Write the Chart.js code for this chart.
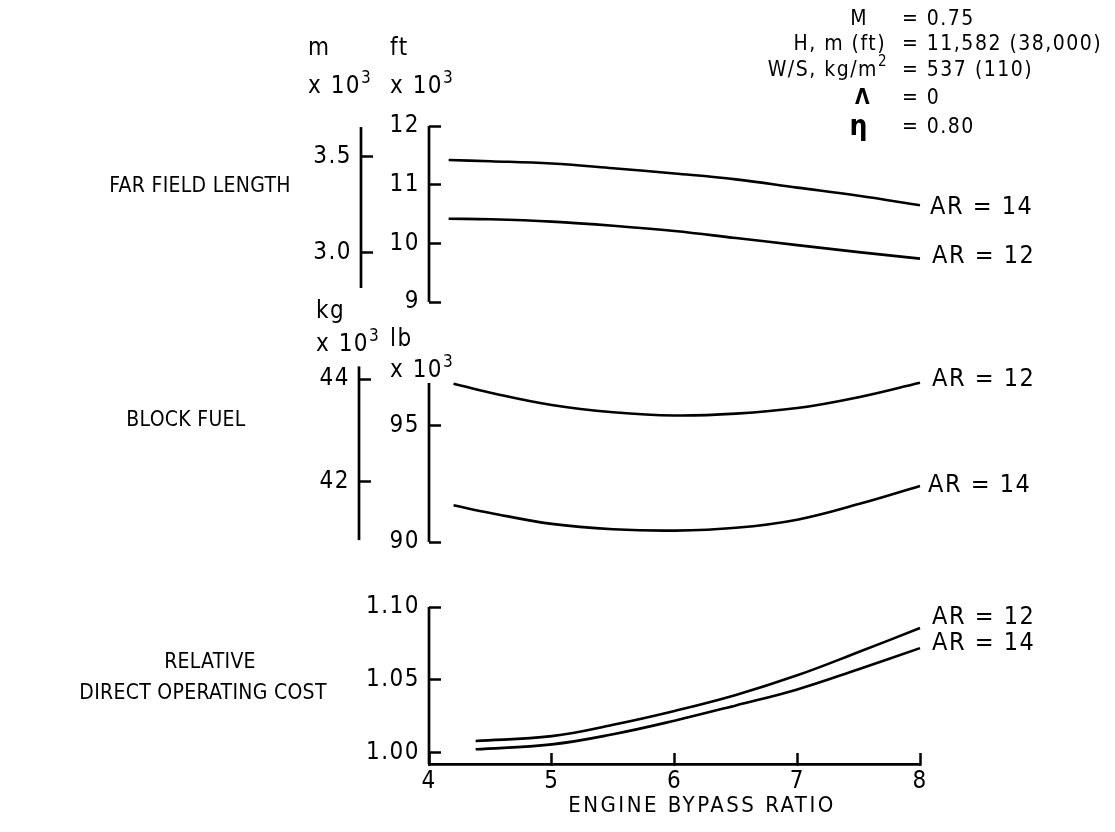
<!DOCTYPE html>
<html><head><meta charset="utf-8">
<script src="https://cdn.jsdelivr.net/npm/chart.js@4.4.1/dist/chart.umd.min.js"></script>
<style>
html,body{margin:0;padding:0;background:#fff;}
#wrap{position:relative;width:1115px;height:832px;overflow:hidden;background:#fff;}
#wrap canvas{position:absolute;left:0;top:0;}
</style></head><body>
<div id="wrap">
<canvas id="cFFL" width="1115" height="832"></canvas>
<canvas id="cFuel" width="1115" height="832"></canvas>
<canvas id="cDoc" width="1115" height="832"></canvas>
</div>
<script>
// ---------------- data ----------------
const bypassTop = [4.16, 4.5, 5, 5.5, 6, 6.5, 7, 7.5, 8];
const fieldLengthAR14 = [11.42, 11.40, 11.36, 11.28, 11.19, 11.09, 10.95, 10.81, 10.65]; // ft x 10^3
const fieldLengthAR12 = [10.42, 10.41, 10.37, 10.30, 10.21, 10.09, 9.97, 9.85, 9.74];

const bypassMid = [4.2, 4.5, 5, 5.5, 6, 6.5, 7, 7.5, 8];
const blockFuelAR12 = [96.81, 96.42, 95.89, 95.58, 95.44, 95.52, 95.76, 96.23, 96.85]; // lb x 10^3
const blockFuelAR14 = [91.58, 91.25, 90.78, 90.55, 90.49, 90.61, 90.96, 91.63, 92.41];

const bypassDoc = [4.38, 5, 5.5, 6, 6.5, 7, 7.5, 8];
const docAR12 = [1.0078, 1.0112, 1.0190, 1.0285, 1.0395, 1.0530, 1.0690, 1.0855];
const docAR14 = [1.0021, 1.0055, 1.0125, 1.0218, 1.0323, 1.0433, 1.0572, 1.0717];

const bypassTicks = [4, 5, 6, 7, 8];
const ftTicks = [9, 10, 11, 12];
const mTicks = [3.0, 3.5];
const lbTicks = [90, 95];
const kgTicks = [42, 44];
const docTicks = [1.00, 1.05, 1.10];

const FT_PER_M = 3.28084;
const LB_PER_KG = 2.20462;

// ---------------- font ----------------
function hasFont(name){
  const c = document.createElement('canvas').getContext('2d');
  const s = 'FAR FIELD LENGTH 0123456789 AR';
  c.font = '40px monospace'; const a = c.measureText(s).width;
  c.font = '40px "' + name + '", monospace'; const b = c.measureText(s).width;
  return Math.abs(a - b) > 0.5;
}
const NARROW = hasFont('Liberation Sans Narrow');
const FAM = NARROW ? '"Liberation Sans Narrow", sans-serif' : '"DejaVu Sans Condensed", "DejaVu Sans", sans-serif';
const SZ = NARROW
  ? {tick: 27, ar: 27, unit: 27, param: 24, title: 24, xtitle: 26}
  : {tick: 24, ar: 25, unit: 24, param: 21, title: 21, xtitle: 22};

// ---------------- helpers ----------------
const INK = '#000';
function fixedTicks(list){ return s => { s.ticks = list.map(v => ({value: v})); }; }

function yAxis(o){
  return {
    type: 'linear', position: 'left', weight: o.weight, min: o.min, max: o.max,
    afterBuildTicks: fixedTicks(o.ticks),
    afterFit: s => { s.width = o.width; },
    border: {display: false},
    grid: {display: true, drawOnChartArea: false, drawTicks: true, tickLength: -12,
           tickWidth: 2.5, tickColor: INK, color: INK},
    ticks: {color: INK, padding: 21, font: {family: FAM, size: SZ.tick},
            callback: o.fmt}
  };
}
function hiddenX(){ return {type: 'linear', min: 4, max: 8, display: false}; }

function series(xs, ys){ return xs.map((x, i) => ({x: x, y: ys[i]})); }
function lineDs(xs, ys, yId){
  return {data: series(xs, ys), yAxisID: yId, borderColor: INK, borderWidth: 2.6, pointRadius: 0,
          tension: 0.4, fill: false, clip: false};
}

// axis lines drawn over a chosen value span, through the scale
const axisLinePlugin = {
  id: 'axisLines',
  afterDraw(chart, args, opts){
    const ctx = chart.ctx;
    (opts.lines || []).forEach(l => {
      const s = chart.scales[l.scale];
      const x = s.right;
      ctx.save();
      ctx.strokeStyle = INK; ctx.lineWidth = 2.7; ctx.lineCap = 'butt';
      ctx.beginPath();
      ctx.moveTo(x, s.getPixelForValue(l.from));
      ctx.lineTo(x, s.getPixelForValue(l.to));
      ctx.stroke();
      ctx.restore();
    });
  }
};

// "AR = .." labels at the curve ends
const endLabelPlugin = {
  id: 'endLabels',
  afterDraw(chart, args, opts){
    const ctx = chart.ctx;
    (opts.labels || []).forEach(l => {
      const meta = chart.getDatasetMeta(l.dataset);
      const p = meta.data[meta.data.length - 1];
      ctx.save();
      ctx.fillStyle = INK;
      ctx.font = SZ.ar + 'px ' + FAM;
      ctx.letterSpacing = '1.5px';
      ctx.textAlign = 'left'; ctx.textBaseline = 'middle';
      ctx.fillText(l.text, p.x + l.dx, p.y + l.dy);
      ctx.restore();
    });
  }
};

const letterPlugin = {
  id: 'letterSpace',
  beforeDraw(chart){ chart.ctx.letterSpacing = '1.5px'; }
};

function supText(ctx, base, sup, x, y, size, align){
  ctx.font = size + 'px ' + FAM;
  const wb = ctx.measureText(base).width;
  ctx.font = Math.round(size * 0.72) + 'px ' + FAM;
  const ws = ctx.measureText(sup).width;
  let x0 = x;
  if (align === 'right') x0 = x - wb - ws;
  ctx.textAlign = 'left';
  ctx.font = size + 'px ' + FAM;
  ctx.fillText(base, x0, y);
  ctx.font = Math.round(size * 0.72) + 'px ' + FAM;
  ctx.fillText(sup, x0 + wb, y - size * 0.42);
}

// free text of the figure (titles, units, flight conditions)
const textPlugin = {
  id: 'figureText',
  afterDraw(chart){
    const ctx = chart.ctx;
    ctx.save();
    ctx.fillStyle = INK;
    ctx.letterSpacing = '1.5px';
    ctx.textBaseline = 'alphabetic';
    const U = SZ.unit;
    // axis unit labels
    ctx.textAlign = 'left';
    ctx.font = U + 'px ' + FAM;
    ctx.fillText('m', 308, 55);
    supText(ctx, 'x 10', '3', 308, 93, U, 'left');
    ctx.font = U + 'px ' + FAM;
    ctx.fillText('ft', 390, 55);
    supText(ctx, 'x 10', '3', 390, 93, U, 'left');
    ctx.font = U + 'px ' + FAM;
    ctx.fillText('kg', 316, 318);
    supText(ctx, 'x 10', '3', 316, 351, U, 'left');
    ctx.font = U + 'px ' + FAM;
    ctx.fillText('lb', 390, 346);
    supText(ctx, 'x 10', '3', 390, 377, U, 'left');

    // panel titles
    ctx.font = SZ.title + 'px ' + FAM;
    ctx.textAlign = 'center'; ctx.textBaseline = 'middle';
    ctx.letterSpacing = '0.3px';
    ctx.fillText('FAR FIELD LENGTH', 200, 187);
    ctx.fillText('BLOCK FUEL', 186, 421);
    ctx.fillText('RELATIVE', 210, 663);
    ctx.fillText('DIRECT OPERATING COST', 203, 694);
    ctx.font = SZ.xtitle + 'px ' + FAM;
    ctx.letterSpacing = '2.5px';
    ctx.fillText('ENGINE BYPASS RATIO', 702, 806);

    // flight conditions
    const P = SZ.param;
    ctx.letterSpacing = '1.5px';
    ctx.font = P + 'px ' + FAM;
    ctx.textBaseline = 'middle';
    ctx.textAlign = 'right';
    ctx.fillText('M', 868, 20);
    ctx.fillText('H, m (ft)', 886, 45);
    supText(ctx, 'W/S, kg/m', '2', 888, 71, P, 'right');
    ctx.font = 'bold ' + P + 'px ' + FAM;
    ctx.textAlign = 'right';
    ctx.fillText('\u039B', 871, 99);
    ctx.font = 'bold ' + Math.round(P * 1.35) + 'px ' + FAM;
    ctx.fillText('\u03B7', 869, 128);
    ctx.font = P + 'px ' + FAM;
    ctx.textAlign = 'left';
    ctx.fillText('= 0.75', 902, 20);
    ctx.fillText('= 11,582 (38,000)', 902, 45);
    ctx.fillText('= 537 (110)', 902, 71);
    ctx.fillText('= 0', 902, 99);
    ctx.fillText('= 0.80', 902, 128);
    ctx.restore();
  }
};

const baseOpts = {
  responsive: false, animation: false, devicePixelRatio: 1,
  events: []
};

// ---------------- chart 1: far field length ----------------
new Chart(document.getElementById('cFFL'), {
  type: 'line',
  plugins: [letterPlugin, axisLinePlugin, endLabelPlugin, textPlugin],
  data: {datasets: [lineDs(bypassTop, fieldLengthAR14, 'ft'), lineDs(bypassTop, fieldLengthAR12, 'ft')]},
  options: Object.assign({}, baseOpts, {
    layout: {padding: {left: 301, right: 195, top: 126, bottom: 530}},
    scales: {
      x: hiddenX(),
      ft: yAxis({weight: 0, width: 68, min: 9, max: 12, ticks: ftTicks, fmt: v => String(v)}),
      m: yAxis({weight: 1, width: 60, min: 9 / FT_PER_M, max: 12 / FT_PER_M, ticks: mTicks,
                fmt: v => v.toFixed(1)})
    },
    plugins: {
      legend: {display: false}, tooltip: {enabled: false},
      axisLines: {lines: [{scale: 'ft', from: 9, to: 12}, {scale: 'm', from: 2.816, to: 3.652}]},
      endLabels: {labels: [{dataset: 0, text: 'AR = 14', dx: 10, dy: 2},
                           {dataset: 1, text: 'AR = 12', dx: 12, dy: -2}]}
    }
  })
});

// ---------------- chart 2: block fuel ----------------
new Chart(document.getElementById('cFuel'), {
  type: 'line',
  plugins: [letterPlugin, axisLinePlugin, endLabelPlugin],
  data: {datasets: [lineDs(bypassMid, blockFuelAR12, 'lb'), lineDs(bypassMid, blockFuelAR14, 'lb')]},
  options: Object.assign({}, baseOpts, {
    layout: {padding: {left: 299, right: 195, top: 366, bottom: 290}},
    scales: {
      x: hiddenX(),
      lb: yAxis({weight: 0, width: 70, min: 90, max: 97.57, ticks: lbTicks, fmt: v => String(v)}),
      kg: yAxis({weight: 1, width: 60, min: 90 / LB_PER_KG, max: 97.57 / LB_PER_KG, ticks: kgTicks,
                 fmt: v => String(v)})
    },
    plugins: {
      legend: {display: false}, tooltip: {enabled: false},
      axisLines: {lines: [{scale: 'lb', from: 90, to: 96.84}, {scale: 'kg', from: 40.86, to: 44.25}]},
      endLabels: {labels: [{dataset: 0, text: 'AR = 12', dx: 12, dy: -3},
                           {dataset: 1, text: 'AR = 14', dx: 8, dy: 0}]}
    }
  })
});

// ---------------- chart 3: relative DOC ----------------
new Chart(document.getElementById('cDoc'), {
  type: 'line',
  plugins: [letterPlugin, axisLinePlugin, endLabelPlugin],
  data: {datasets: [lineDs(bypassDoc, docAR12, 'doc'), lineDs(bypassDoc, docAR14, 'doc')]},
  options: Object.assign({}, baseOpts, {
    layout: {padding: {left: 359, right: 195, top: 607, bottom: 28}},
    scales: {
      x: {
        type: 'linear', position: 'bottom', min: 4, max: 8,
        afterBuildTicks: fixedTicks(bypassTicks),
        afterFit: s => { s.height = 40; },
        border: {display: true, color: INK, width: 2.7},
        grid: {display: true, drawOnChartArea: false, drawTicks: true, tickLength: -11,
               tickWidth: 2.5, tickColor: INK},
        ticks: {color: INK, padding: 14, maxRotation: 0, font: {family: FAM, size: SZ.tick},
                callback: v => String(v)}
      },
      doc: yAxis({weight: 0, width: 70, min: 0.992, max: 1.10, ticks: docTicks, fmt: v => v.toFixed(2)})
    },
    plugins: {
      legend: {display: false}, tooltip: {enabled: false},
      axisLines: {lines: [{scale: 'doc', from: 0.992, to: 1.10}]},
      endLabels: {labels: [{dataset: 0, text: 'AR = 12', dx: 12, dy: -11},
                           {dataset: 1, text: 'AR = 14', dx: 12, dy: -5}]}
    }
  })
});
</script>
</body></html>
